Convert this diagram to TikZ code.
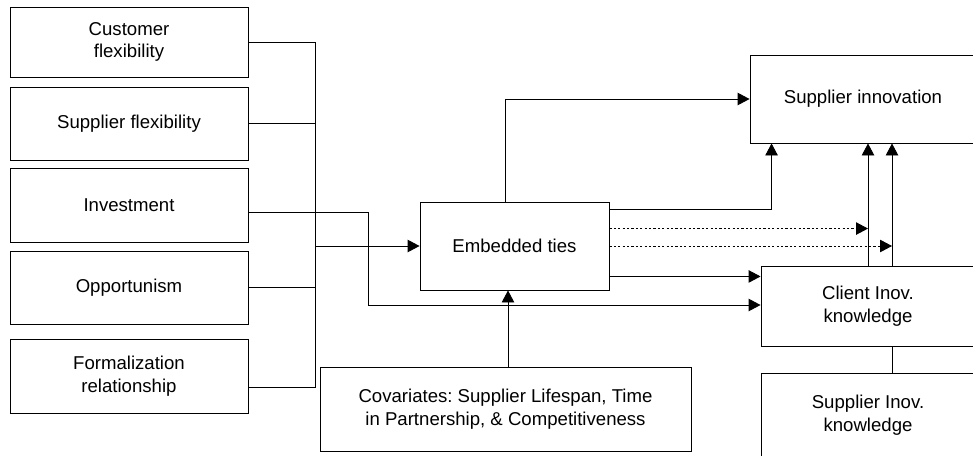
\documentclass[tikz,border=0pt]{standalone}
\usepackage{fontspec}
\setmainfont{Liberation Sans}
\usetikzlibrary{arrows.meta}
\frenchspacing

\begin{document}
\begin{tikzpicture}[x=1pt,y=-1pt,line width=.9pt,
	box/.style={draw,inner sep=0pt,align=center,font=\fontsize{18.6}{22.5}\selectfont},
	arr/.style={-{Triangle[length=12pt,width=12.5pt]}},
	dots/.style={dash pattern=on 2.2pt off 2.2pt}]
\useasboundingbox(0,0)rectangle(973,455);
\clip(0,0)rectangle(973,455);
\def\w{238}
% left column
\node[box,minimum width=\w,minimum height=70](cf)at(129,42){Customer\\flexibility};
\node[box,minimum width=\w,minimum height=73](sf)at(129,123.5){Supplier flexibility};
\node[box,minimum width=\w,minimum height=74](inv)at(129,205){Investment};
\node[box,minimum width=\w,minimum height=73](opp)at(129,287.5){Opportunism};
\node[box,minimum width=\w,minimum height=74](form)at(129,376){Formalization\\relationship};
% middle and right
\node[box,minimum width=189,minimum height=88](et)at(514.5,246){Embedded ties};
\node[box,minimum width=371,minimum height=84](cov)at(505.5,409){Covariates: Supplier Lifespan, Time\\in Partnership, \& Competitiveness};
\node[box,minimum width=226,minimum height=88](si)at(863,99){Supplier innovation};
\node[box,minimum width=214,minimum height=80](ci)at(868,306){Client Inov.\\knowledge};
\node[box,minimum width=214,minimum height=84](sk)at(868,415){Supplier Inov.\\knowledge};
% helper points
\coordinate(bus)at(315,0);
\coordinate(jog)at(368,305);
\coordinate(iv)at([yshift=-7pt]inv.east);
\coordinate(fo)at([yshift=-11pt]form.east);
\coordinate(v1)at(ci.north);
\coordinate(v2)at([xshift=24pt]ci.north);
\coordinate(e1)at([yshift=-8pt]et.north east);
\coordinate(d1)at([yshift=-27pt]et.north east);
\coordinate(d2)at(et.east);
\coordinate(e3)at([yshift=14pt]et.south east);
\coordinate(up)at([xshift=-9.5pt]et.north);
\coordinate(cv)at([xshift=2.5pt]cov.north);
% antecedents
\draw(cf.east)-|(bus|-fo)--(fo);
\foreach\n in{sf,opp}\draw(\n.east)--(\n.east-|bus);
\draw[arr](bus|-et.west)--(et.west);
\draw[arr](iv)-|(jog)--(jog-|ci.west);
\draw[arr](cv)--(cv|-et.south);
% outcomes
\draw[arr](up)|-(si.west);
\draw[arr](e1)-|([xshift=22pt]si.south west);
\draw[arr,dots](d1)--(d1-|v1);
\draw[arr,dots](d2)--(d2-|v2);
\draw[arr](e3)--(e3-|ci.west);
\draw[arr](v1)--(v1|-si.south);
\draw[arr](v2)--(v2|-si.south);
\draw([xshift=24pt]ci.south)--([xshift=24pt]sk.north);
\end{tikzpicture}
\end{document}
